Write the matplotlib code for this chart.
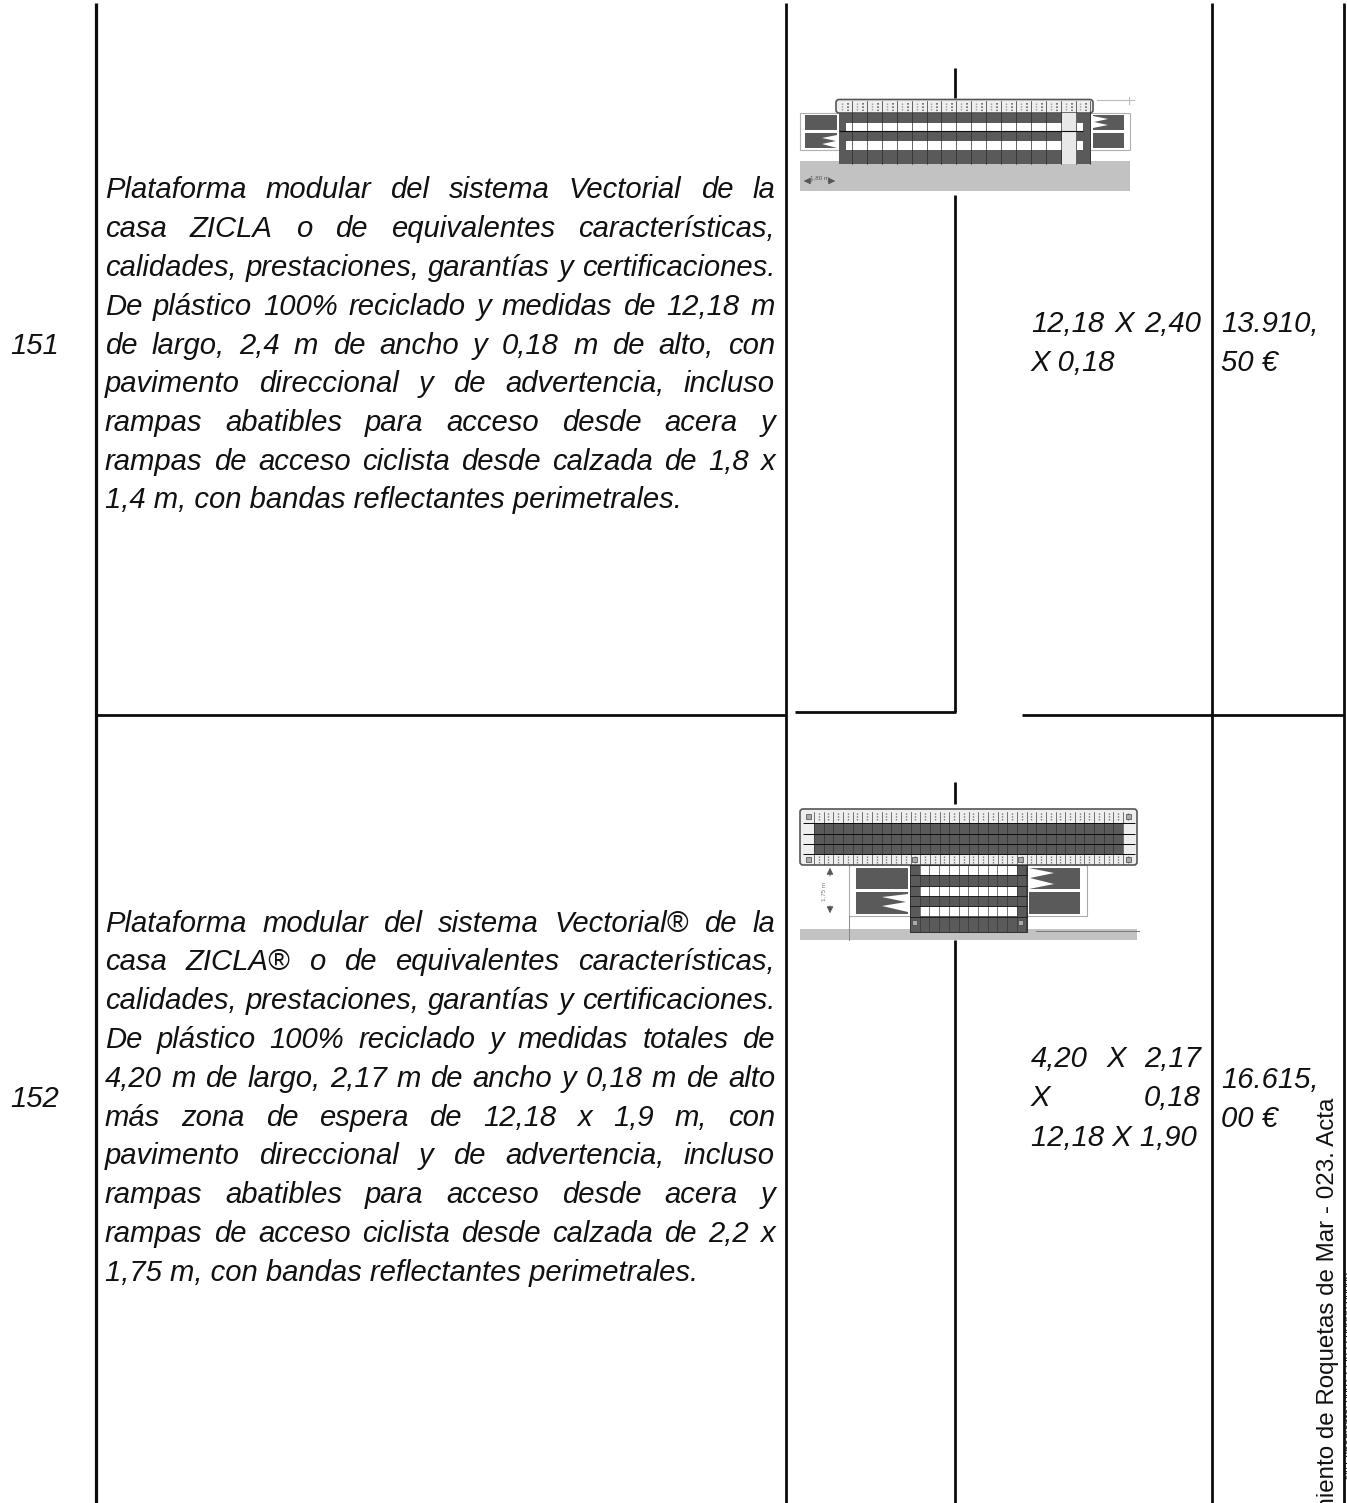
import matplotlib
matplotlib.use("Agg")
import matplotlib.pyplot as plt
from matplotlib.patches import Rectangle, Polygon, FancyBboxPatch

W, H = 1347, 1503
FONT = "Liberation Sans"
FS = 21.1

row_numbers = ["151", "152"]
desc_151 = ["Plataforma modular del sistema Vectorial de la",
            "casa ZICLA o de equivalentes características,",
            "calidades, prestaciones, garantías y certificaciones.",
            "De plástico 100% reciclado y medidas de 12,18 m",
            "de largo, 2,4 m de ancho y 0,18 m de alto, con",
            "pavimento direccional y de advertencia, incluso",
            "rampas abatibles para acceso desde acera y",
            "rampas de acceso ciclista desde calzada de 1,8 x",
            "1,4 m, con bandas reflectantes perimetrales."]
desc_152 = ["Plataforma modular del sistema Vectorial® de la",
            "casa ZICLA® o de equivalentes características,",
            "calidades, prestaciones, garantías y certificaciones.",
            "De plástico 100% reciclado y medidas totales de",
            "4,20 m de largo, 2,17 m de ancho y 0,18 m de alto",
            "más zona de espera de 12,18 x 1,9 m, con",
            "pavimento direccional y de advertencia, incluso",
            "rampas abatibles para acceso desde acera y",
            "rampas de acceso ciclista desde calzada de 2,2 x",
            "1,75 m, con bandas reflectantes perimetrales."]
size_151 = ["12,18 X 2,40", "X 0,18"]
size_152 = ["4,20 X 2,17", "X 0,18", "12,18 X 1,90"]
price_151 = ["13.910,", "50 €"]
price_152 = ["16.615,", "00 €"]
side_text = "Ayuntamiento de Roquetas de Mar - 023. Acta"
side_small = "Nº Expediente: 00013 /2023 00000 00000"

fig = plt.figure(figsize=(W / 100, H / 100), dpi=100, facecolor="white")
ax = fig.add_axes([0, 0, 1, 1])
ax.set_xlim(0, W)
ax.set_ylim(H, 0)
ax.axis("off")
r = fig.canvas.get_renderer()


def width(s, fs=FS):
    t = ax.text(0, 0, s, fontsize=fs, family=FONT, style="italic")
    w = t.get_window_extent(r).width
    t.remove()
    return w


def put(x, y, s):
    ax.text(x, y, s, fontsize=FS, family=FONT, style="italic", va="baseline", color="#111111")


def block(lines, x0, x1, y0, dy, justified_last=False):
    for i, ln in enumerate(lines):
        y = y0 + i * dy
        words = ln.split(" ")
        if (i == len(lines) - 1 and not justified_last) or len(words) == 1:
            put(x0, y, ln)
            continue
        gap = (x1 - x0 - sum(width(w) for w in words)) / (len(words) - 1)
        x = x0
        for w in words:
            put(x, y, w)
            x += width(w) + gap


def vline(x, y0, y1, lw=2.0):
    ax.plot([x, x], [y0, y1], color="#0c0c0c", lw=lw, solid_capstyle="butt")


def hline(y, x0, x1, lw=2.0, z=2):
    ax.plot([x0, x1], [y, y], color="#0c0c0c", lw=lw, solid_capstyle="butt", zorder=z)


def rect(x0, y0, x1, y1, fc, ec="none", lw=0.0, z=2):
    ax.add_patch(Rectangle((x0, y0), x1 - x0, y1 - y0, facecolor=fc, edgecolor=ec, lw=lw, zorder=z))


def band(x0, y0, x1, y1):
    ax.add_patch(FancyBboxPatch((x0 + 3, y0 + 3), x1 - x0 - 6, y1 - y0 - 6, boxstyle="round,pad=3",
                                fc="#eeeeee", ec="#555555", lw=1.2, zorder=3))


# table rules
vline(96, 3, H, 2.3)
vline(785.5, 3, H)
vline(1211.5, 3, H)
vline(1344, 3, H)
vline(954.5, 68, 98)
vline(954.5, 195, 712)
vline(954.5, 782, 804)
vline(954.5, 940, H)
hline(715, 96, 785)
hline(712, 795, 955.5)
hline(715, 1022, 1344)

DK = "#5a5a5a"
GR = "#c2c2c2"

# --- plan drawing of item 151
rect(800, 161, 1130, 191, GR)
rect(800, 112.5, 1130, 150, "white", "#b0b0b0", 0.8)
rect(839, 113, 1091, 164, DK, z=3)
rect(846, 123, 1083, 131, "white", z=3)
rect(846, 141, 1083, 150, "white", z=3)
band(836, 99.5, 1093, 113)
rect(1062, 113, 1077, 164, "#e8e8e8", z=4)
for c in [(805, 115, 837, 130), (805, 133, 837, 148), (1093, 115, 1124, 130), (1093, 133, 1124, 148)]:
    rect(*c, DK)
ax.add_patch(Polygon([(837, 135), (822, 138), (836, 141), (822, 144), (837, 148)], fc="white", zorder=3))
ax.add_patch(Polygon([(1093, 116), (1108, 119), (1094, 122), (1108, 125), (1093, 128)], fc="white", zorder=3))
for k in range(17):
    x = 852 + k * 14.9
    ax.plot([x, x], [101, 164], color="#2a2a2a", lw=0.5, zorder=5)
    ax.plot([x - 4, x - 4], [103, 111], color="#666666", lw=1.2, ls=(0, (1, 1)), zorder=5)
    ax.plot([x - 10, x - 10], [103, 111], color="#999999", lw=1.0, ls=(0, (1, 1)), zorder=5)
hline(131, 839, 1083, 0.8, 5)
ax.plot([1097, 1134], [100, 100], color="#bbbbbb", lw=0.8)
ax.plot([1129, 1129], [97, 104], color="#bbbbbb", lw=0.8)
ax.annotate("", (801, 181), (815, 181), arrowprops=dict(arrowstyle="-|>", color="#555555", lw=0.6), zorder=6)
ax.annotate("", (838, 181), (825, 181), arrowprops=dict(arrowstyle="-|>", color="#555555", lw=0.6), zorder=6)
ax.text(819.5, 177.5, "1,80 m", fontsize=4.5, family=FONT, ha="center", va="center", color="#555555", zorder=6)

# --- plan drawing of item 152
rect(800, 929, 1137, 940, GR)
rect(849, 865, 1087, 916, "white", "#aaaaaa", 0.8)
band(800, 809, 1137, 865)
rect(814, 823, 1123, 854, DK, z=3)
rect(910, 865, 1027, 932, DK, "#222222", 0.6, z=3)
for s in [(920, 866, 1017, 875), (920, 886, 1017, 896), (920, 907, 1017, 916)]:
    rect(*s, "white", z=3)
for c in [(856, 868, 908, 889), (856, 892, 908, 914), (1029, 868, 1080, 889), (1029, 892, 1080, 914)]:
    rect(*c, DK)
ax.add_patch(Polygon([(908, 894), (882, 897), (906, 902), (882, 906), (908, 912)], fc="white", zorder=3))
ax.add_patch(Polygon([(1029, 868), (1054, 873), (1030, 878), (1054, 884), (1029, 889)], fc="white", zorder=3))
for k in range(33):
    x = 814 + k * 9.66
    ax.plot([x, x], [812, 864], color="#2a2a2a", lw=0.45, zorder=5)
    ax.plot([x + 4.8, x + 4.8], [813, 821], color="#777777", lw=1.0, ls=(0, (1, 1)), zorder=5)
    ax.plot([x + 4.8, x + 4.8], [856, 864], color="#777777", lw=1.0, ls=(0, (1, 1)), zorder=5)
for y in (823, 834, 844, 854):
    hline(y, 803, 1135, 0.7, 5)
for k in range(13):
    x = 910 + k * 9.7
    ax.plot([x, x], [865, 932], color="#333333", lw=0.45, zorder=5)
for y in (875, 886, 896, 906, 917):
    ax.plot([910, 1027], [y, y], color="#222222", lw=0.7, zorder=5)
for c in [(806, 814), (1126, 814), (806, 857), (1126, 857), (912, 857), (1018, 857), (912, 920), (1018, 920)]:
    rect(c[0], c[1], c[0] + 5, c[1] + 5, "#aaaaaa", "#444444", 0.5, z=6)
ax.plot([849, 849], [916, 940], color="#888888", lw=0.7, zorder=4)
ax.plot([1036, 1139], [931, 931], color="#777777", lw=0.7, zorder=4)
ax.annotate("", (830, 865), (830, 879), arrowprops=dict(arrowstyle="-|>", color="#555555", lw=0.6), zorder=6)
ax.annotate("", (830, 916), (830, 903), arrowprops=dict(arrowstyle="-|>", color="#555555", lw=0.6), zorder=6)
ax.text(824, 891, "1,75 m", fontsize=4.5, family=FONT, rotation=90, ha="center", va="center", color="#777777", zorder=6)

# --- table text
put(10, 354, row_numbers[0])
put(10, 1107, row_numbers[1])
block(desc_151, 105, 775, 198.5, 38.75)
block(desc_152, 105, 775, 931.5, 38.8)
block(size_151, 1031, 1201, 332, 39)
block(size_152[:2], 1031, 1201, 1067, 39.5, justified_last=True)
put(1031, 1146, size_152[2])
block(price_151, 1221, 1221, 332, 39)
block(price_152, 1221, 1221, 1088, 39)

# --- margin stamp, running off the page
ax.text(1339, 1098, side_text, rotation=90, fontsize=17.4, family=FONT, ha="right", va="top",
        color="#111111", clip_on=True)
ax.text(1345, 1272, side_small, rotation=90, fontsize=8, family=FONT, ha="left", va="top",
        color="#111111", clip_on=True)

fig.savefig("out.png", dpi=100, facecolor="white")
